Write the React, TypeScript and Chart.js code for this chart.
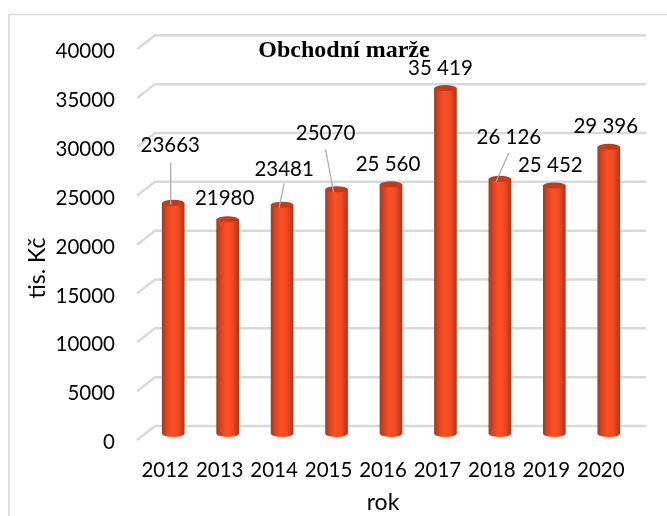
import React, { useEffect, useRef } from "react";
import { Chart, registerables } from "chart.js";

Chart.register(...registerables);

const categories = ["2012", "2013", "2014", "2015", "2016", "2017", "2018", "2019", "2020"];
const marginValues = [23663, 21980, 23481, 25070, 25560, 35419, 26126, 25452, 29396];
const valueLabels = ["23663", "21980", "23481", "25070", "25 560", "35 419", "26 126", "25 452", "29 396"];
const chartTitle = "Obchodní marže";
const yTitle = "tis. Kč";
const xTitle = "rok";

const FAMILY = "Lato, 'Noto Sans', sans-serif";
const LABEL_FONT = `20.5px ${FAMILY}`;
const GRID = "#D9D9D9";
// label centre relative to the bar top: [dx, dy]
const labelOffsets = [[-3, -57.5], [-3, -20.5], [2, -35.5], [-11, -55.5], [-3, -19.5], [-5, -19.5], [9, -41.5], [-4, -20.5], [-3, -20.5]];
// leader lines relative to the bar top: index -> [x1, y1, x2, y2]
const leaders: Record<number, number[]> = {
  0: [-2.5, -40, -2.5, 2],
  2: [2, -21, -3, 3],
  3: [-11, -40, -3, 3],
  6: [9, -26, -4, 3],
};

function barGradient(ctx: CanvasRenderingContext2D, x: number) {
  const g = ctx.createLinearGradient(x - 11, 0, x + 11, 0);
  g.addColorStop(0, "#A63A1E");
  g.addColorStop(0.2, "#DE4420");
  g.addColorStop(0.45, "#FF4F23");
  g.addColorStop(0.72, "#F04A22");
  g.addColorStop(1, "#A63A1E");
  return g;
}

const decor = {
  id: "decor",
  beforeDatasetsDraw(chart: any) {
    const { ctx, scales, chartArea } = chart;
    const y = scales.y;
    ctx.save();
    // outer frame
    ctx.strokeStyle = GRID;
    ctx.lineWidth = 1.5;
    ctx.beginPath();
    ctx.moveTo(667, 14.5);
    ctx.lineTo(9, 14.5);
    ctx.lineTo(9, 516);
    ctx.stroke();
    // 3D gridlines
    ctx.lineWidth = 2.5;
    y.ticks.forEach((t: any) => {
      const py = y.getPixelForValue(t.value);
      ctx.beginPath();
      ctx.moveTo(chartArea.left - 9, py + 6);
      ctx.lineTo(chartArea.left + 9, py - 8);
      ctx.lineTo(chartArea.right + 10, py - 8);
      ctx.stroke();
    });
    ctx.restore();
  },
  afterDatasetsDraw(chart: any) {
    const { ctx, scales } = chart;
    const meta = chart.getDatasetMeta(0);
    const base = scales.y.getPixelForValue(0);
    ctx.save();
    meta.data.forEach((bar: any, i: number) => {
      const r = 11;
      // rounded bottom
      ctx.fillStyle = barGradient(ctx, bar.x);
      ctx.beginPath();
      ctx.ellipse(bar.x, base, r, 3, 0, 0, Math.PI);
      ctx.fill();
      // top cap
      ctx.fillStyle = "#C63A16";
      ctx.beginPath();
      ctx.ellipse(bar.x, bar.y, r, 3, 0, 0, Math.PI * 2);
      ctx.fill();
      // leader
      const l = leaders[i];
      if (l) {
        ctx.strokeStyle = "#ABABAB";
        ctx.lineWidth = 1.25;
        ctx.beginPath();
        ctx.moveTo(bar.x + l[0], bar.y + l[1]);
        ctx.lineTo(bar.x + l[2], bar.y + l[3]);
        ctx.stroke();
      }
    });
    ctx.fillStyle = "#000";
    ctx.font = LABEL_FONT;
    ctx.textAlign = "center";
    ctx.textBaseline = "middle";
    meta.data.forEach((bar: any, i: number) => {
      ctx.fillText(valueLabels[i], bar.x + labelOffsets[i][0], bar.y + labelOffsets[i][1]);
    });
    // axis titles
    ctx.font = `23px ${FAMILY}`;
    ctx.fillText(xTitle, 383, 503);
    ctx.translate(38, 268);
    ctx.rotate(-Math.PI / 2);
    ctx.fillText(yTitle, 0, 0);
    ctx.restore();
  },
};

export default function App() {
  const ref = useRef<HTMLCanvasElement>(null);
  useEffect(() => {
    const chart = new Chart(ref.current!, {
      type: "bar",
      data: {
        labels: categories,
        datasets: [
          {
            label: chartTitle,
            data: marginValues,
            barThickness: 22,
            backgroundColor: (c: any) => {
              const s = c.chart.scales.x;
              const px = s && c.dataIndex !== undefined ? s.getPixelForValue(c.dataIndex) : NaN;
              return Number.isFinite(px) ? barGradient(c.chart.ctx, px) : "#FF4F23";
            },
          },
        ],
      },
      options: {
        responsive: false,
        animation: false,
        layout: { padding: { left: 52, right: 31, top: 0, bottom: 0 } },
        plugins: {
          legend: { display: false },
          tooltip: { enabled: false },
          title: {
            display: true,
            text: chartTitle,
            color: "#000",
            font: { family: "'Liberation Serif', serif", size: 24, weight: "bold", lineHeight: 1.15 },
            padding: { top: 37, bottom: -21.6 },
          },
        },
        scales: {
          x: {
            afterFit: (s: any) => { s.height = 82; },
            grid: { display: false, drawTicks: false },
            border: { display: false },
            ticks: {
              color: "#000",
              font: { family: FAMILY, size: 20.5 },
              labelOffset: -8,
              padding: 24,
              maxRotation: 0,
              autoSkip: false,
            },
          },
          y: {
            min: 0,
            max: 40000,
            afterFit: (s: any) => { s.width = 94; },
            grid: { display: false, drawTicks: false },
            border: { display: false },
            ticks: {
              stepSize: 5000,
              color: "#000",
              font: { family: FAMILY, size: 20.5 },
              labelOffset: 8.5,
              padding: 31,
              callback: (v: any) => String(v),
            },
          },
        },
      },
      plugins: [decor],
    } as any);
    return () => chart.destroy();
  }, []);
  return (
    <canvas
      ref={ref}
      width={667}
      height={516}
      style={{ position: "absolute", left: 0, top: 0, width: 667, height: 516, display: "block" }}
    />
  );
}
